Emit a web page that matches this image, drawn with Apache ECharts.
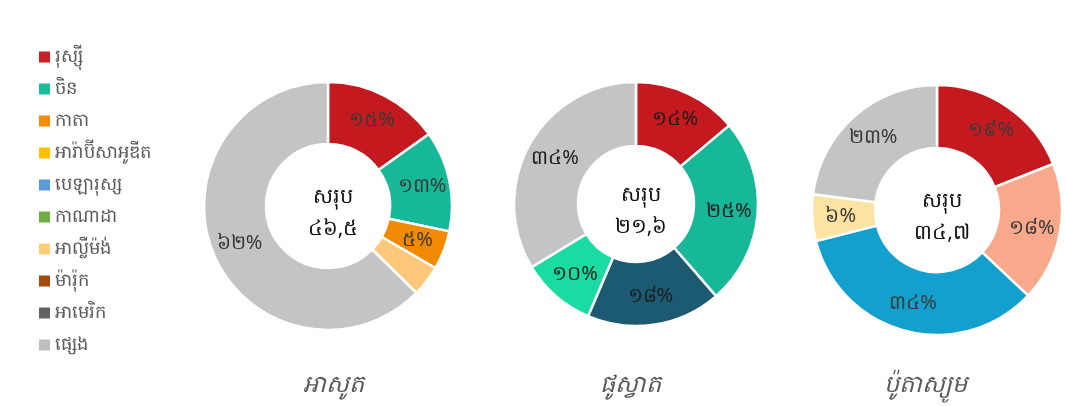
<!DOCTYPE html>
<html>
<head>
<meta charset="utf-8">
<script src="https://cdn.jsdelivr.net/npm/echarts@6/dist/echarts.min.js"></script>
<style>
  html, body { margin: 0; padding: 0; background: #fff; }
  #main { width: 1065px; height: 406px; }
</style>
</head>
<body>
<div id="main"></div>
<script>
// legend entries and their colours
var legendNames = ['រុស្ស៊ី', 'ចិន', 'កាតា', 'អារ៉ាប៊ីសាអូឌីត', 'បេឡារុស្ស', 'កាណាដា', 'អាល្លឺម៉ង់', 'ម៉ារ៉ុក', 'អាមេរិក', 'ផ្សេង'];
var legendColors = ['#c62127', '#1abc9c', '#f28c00', '#ffc000', '#5b9bd5', '#70ad47', '#ffcc77', '#a04b0e', '#636363', '#bfbfbf'];

// three donuts
var chartTitles = ['អាសូត', 'ផូស្វាត', 'ប៉ូតាស្យូម'];
var totals = [46.5, 21.6, 34.7];

var nitrogenNames = ['រុស្ស៊ី', 'ចិន', 'កាតា', 'អាល្លឺម៉ង់', 'ផ្សេង'];
var nitrogenValues = [15, 13, 5, 4, 62];
var nitrogenColors = ['#c4191f', '#17b898', '#f28a00', '#fdc87a', '#c4c4c4'];

var phosphateNames = ['រុស្ស៊ី', 'ចិន', 'ម៉ារ៉ុក', 'អារ៉ាប៊ីសាអូឌីត', 'ផ្សេង'];
var phosphateValues = [14, 25, 18, 10, 34];
var phosphateColors = ['#c4191f', '#17b898', '#1b5a71', '#1adba2', '#c4c4c4'];

var potassiumNames = ['រុស្ស៊ី', 'បេឡារុស្ស', 'កាណាដា', 'អាល្លឺម៉ង់', 'ផ្សេង'];
var potassiumValues = [19, 18, 34, 6, 23];
var potassiumColors = ['#c4191f', '#f9a98b', '#14a0cf', '#fde3a1', '#c4c4c4'];

var khmerDigits = ['០', '១', '២', '៣', '៤', '៥', '៦', '៧', '៨', '៩'];
function toKhmer(v) {
  return String(v).replace('.', ',').replace(/[0-9]/g, function (d) { return khmerDigits[+d]; });
}

var centers = [[328, 206], [636, 204], [937, 210]];
var radii = [[62, 124], [58, 122], [62, 125]];
var labelColors = ['#3a3a3a', '#1e1e1e', '#3a3a3a'];
var hideLabel = [[3], [], []];

function makeData(names, values, colors, hidden) {
  var out = [];
  for (var i = 0; i < names.length; i++) {
    var item = { name: names[i], value: values[i], itemStyle: { color: colors[i] } };
    if (hidden.indexOf(i) >= 0) item.label = { show: false };
    out.push(item);
  }
  return out;
}

var sets = [
  [nitrogenNames, nitrogenValues, nitrogenColors],
  [phosphateNames, phosphateValues, phosphateColors],
  [potassiumNames, potassiumValues, potassiumColors]
];

var series = [];
// invisible pie, only used to feed the legend its colours
series.push({
  type: 'pie',
  center: [-400, -400],
  radius: [0, 1],
  silent: true,
  label: { show: false },
  data: legendNames.map(function (n, i) {
    return { name: n, value: 1, itemStyle: { color: legendColors[i] } };
  })
});

var titles = [];
for (var k = 0; k < 3; k++) {
  series.push({
    type: 'pie',
    center: centers[k],
    radius: radii[k],
    startAngle: 90,
    clockwise: true,
    avoidLabelOverlap: false,
    silent: true,
    itemStyle: { borderColor: '#fff', borderWidth: 2.5 },
    label: {
      show: true,
      position: 'inside',
      color: labelColors[k],
      fontSize: 20,
      fontFamily: 'Noto Sans, sans-serif',
      formatter: function (p) { return toKhmer(p.value) + '%'; }
    },
    labelLine: { show: false },
    data: makeData(sets[k][0], sets[k][1], sets[k][2], hideLabel[k])
  });
  titles.push({
    text: 'សរុប\n' + toKhmer(totals[k]),
    left: centers[k][0],
    top: centers[k][1] - 30,
    textAlign: 'center',
    textStyle: { fontSize: 21, fontWeight: 'normal', color: '#111', lineHeight: 32, fontFamily: 'Noto Sans, sans-serif' }
  });
}
var nameX = [328, 625, 920];
for (var j = 0; j < 3; j++) {
  titles.push({
    text: chartTitles[j],
    left: nameX[j],
    top: 368,
    textAlign: 'center',
    textStyle: { fontSize: 24, fontStyle: 'italic', fontWeight: 'normal', color: '#595959', fontFamily: 'Noto Sans, sans-serif' }
  });
}

var chart = echarts.init(document.getElementById('main'));
chart.setOption({
  backgroundColor: '#fff',
  animation: false,
  title: titles,
  legend: {
    orient: 'vertical',
    left: 34,
    top: 41,
    icon: 'rect',
    itemWidth: 11,
    itemHeight: 11,
    itemGap: 10,
    selectedMode: false,
    data: legendNames,
    textStyle: { fontSize: 18, color: '#595959', lineHeight: 22, fontFamily: 'Noto Sans, sans-serif' }
  },
  series: series
});
</script>
</body>
</html>
